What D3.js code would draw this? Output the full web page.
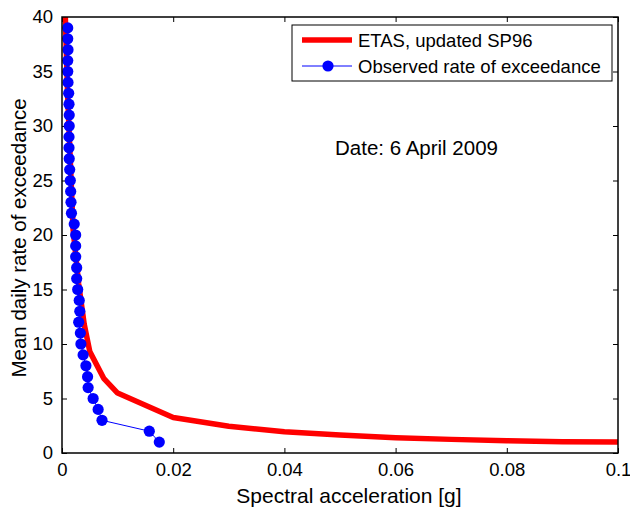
<!DOCTYPE html>
<html>
<head>
<meta charset="utf-8">
<script src="https://cdn.jsdelivr.net/npm/d3@7"></script>
<style>
  body { margin: 0; background: #fff; }
  svg { font-family: "Liberation Sans", Arial, sans-serif; }
</style>
</head>
<body>
<script>
// ETAS model curve (spectral acceleration [g] vs mean daily rate)
const etasX = [0.0006, 0.001, 0.002, 0.003, 0.004, 0.005, 0.0075, 0.01, 0.02, 0.03, 0.04, 0.05, 0.06, 0.07, 0.08, 0.09, 0.1];
const etasY = [40, 33, 20.5, 15.5, 11.8, 9.3, 6.85, 5.5, 3.25, 2.45, 1.95, 1.65, 1.4, 1.25, 1.13, 1.03, 1.0];

// observed rate of exceedance
const obsY = d3.range(39, 0, -1);
const obsX = [0.00103, 0.00103, 0.00108, 0.00103, 0.00103, 0.00108, 0.0012, 0.00126, 0.0013, 0.0013,
              0.00126, 0.00126, 0.0013, 0.00138, 0.00149, 0.00156, 0.00162, 0.0017, 0.0022, 0.00246,
              0.00246, 0.00246, 0.00264, 0.00264, 0.00282, 0.0031, 0.0032, 0.0030, 0.0033, 0.0034,
              0.0038, 0.0043, 0.0046, 0.0047, 0.0056, 0.0065, 0.0072, 0.0157, 0.0175];

const xTicks = [0, 0.02, 0.04, 0.06, 0.08, 0.1];
const yTicks = [0, 5, 10, 15, 20, 25, 30, 35, 40];
const seriesNames = ["ETAS, updated SP96", "Observed rate of exceedance"];

let width = 630;
let height = 512;
let margin = {top: 17, right: 12, bottom: 59, left: 62};
let w = width - margin.left - margin.right;
let h = height - margin.top - margin.bottom;

const svg = d3.select('body')
    .append('svg')
    .attr('width', width)
    .attr('height', height);

let x = d3.scaleLinear().domain([0, 0.1]).range([0, w]);
let y = d3.scaleLinear().domain([0, 40]).range([h, 0]);

let g = svg.append('g')
    .attr('transform', 'translate(' + margin.left + ',' + margin.top + ')');

g.append('clipPath').attr('id', 'clip')
    .append('rect').attr('width', w).attr('height', h);

// axes, ticks inside like matlab
function styleAxis(sel) {
    sel.select('.domain').remove();
    sel.selectAll('line').attr('stroke', '#000').attr('stroke-width', 1);
    sel.selectAll('text').attr('font-size', 18.5).attr('fill', '#000');
}

g.append('g')
    .attr('transform', 'translate(0,' + h + ')')
    .call(d3.axisBottom(x).tickValues(xTicks).tickSizeInner(-5).tickPadding(10).tickFormat(d => d === 0 ? '0' : d3.format('.2~f')(d)))
    .call(styleAxis);
g.append('g')
    .call(d3.axisTop(x).tickValues(xTicks).tickSizeInner(-5).tickFormat(''))
    .call(styleAxis);
g.append('g')
    .call(d3.axisLeft(y).tickValues(yTicks).tickSizeInner(-5).tickPadding(9))
    .call(styleAxis);
g.append('g')
    .attr('transform', 'translate(' + w + ',0)')
    .call(d3.axisRight(y).tickValues(yTicks).tickSizeInner(-5).tickFormat(''))
    .call(styleAxis);

// ETAS line
let line = d3.line().x(d => x(d[0])).y(d => y(d[1]));
g.append('path')
    .datum(d3.zip(etasX, etasY))
    .attr('clip-path', 'url(#clip)')
    .attr('d', line)
    .attr('fill', 'none')
    .attr('stroke', '#ff0000')
    .attr('stroke-width', 5.5)
    .attr('stroke-linejoin', 'round');

// observed
let obs = d3.zip(obsX, obsY);
g.append('path')
    .datum(obs)
    .attr('d', line)
    .attr('fill', 'none')
    .attr('stroke', '#0000ff')
    .attr('stroke-width', 1);
g.selectAll('circle.obs')
    .data(obs)
    .enter()
    .append('circle')
    .attr('class', 'obs')
    .attr('cx', d => x(d[0]))
    .attr('cy', d => y(d[1]))
    .attr('r', 5.6)
    .attr('fill', '#0000ff');

// box
g.append('rect')
    .attr('width', w).attr('height', h)
    .attr('fill', 'none')
    .attr('stroke', '#000')
    .attr('stroke-width', 1.5);

// legend
let lg = svg.append('g').attr('transform', 'translate(292,25)');
lg.append('rect')
    .attr('width', 320).attr('height', 56)
    .attr('fill', '#fff')
    .attr('stroke', '#000')
    .attr('stroke-width', 1);
lg.append('line')
    .attr('x1', 10).attr('x2', 60).attr('y1', 15).attr('y2', 15)
    .attr('stroke', '#ff0000').attr('stroke-width', 5.5);
lg.append('line')
    .attr('x1', 10).attr('x2', 60).attr('y1', 41).attr('y2', 41)
    .attr('stroke', '#0000ff').attr('stroke-width', 1);
lg.append('circle')
    .attr('cx', 36).attr('cy', 41).attr('r', 5.6)
    .attr('fill', '#0000ff');
lg.selectAll('text')
    .data(seriesNames)
    .enter()
    .append('text')
    .attr('x', 66)
    .attr('y', (d, i) => 22 + i * 26)
    .attr('font-size', 18.5)
    .text(d => d);

// annotation
svg.append('text')
    .attr('x', 335).attr('y', 155)
    .attr('font-size', 20.5)
    .text('Date: 6 April 2009');

// axis labels
svg.append('text')
    .attr('x', 349)
    .attr('y', 503)
    .attr('text-anchor', 'middle')
    .attr('font-size', 21)
    .text('Spectral acceleration [g]');
svg.append('text')
    .attr('transform', 'translate(26,' + (margin.top + h / 2 + 3) + ') rotate(-90)')
    .attr('text-anchor', 'middle')
    .attr('font-size', 20.5)
    .text('Mean daily rate of exceedance');
</script>
</body>
</html>
